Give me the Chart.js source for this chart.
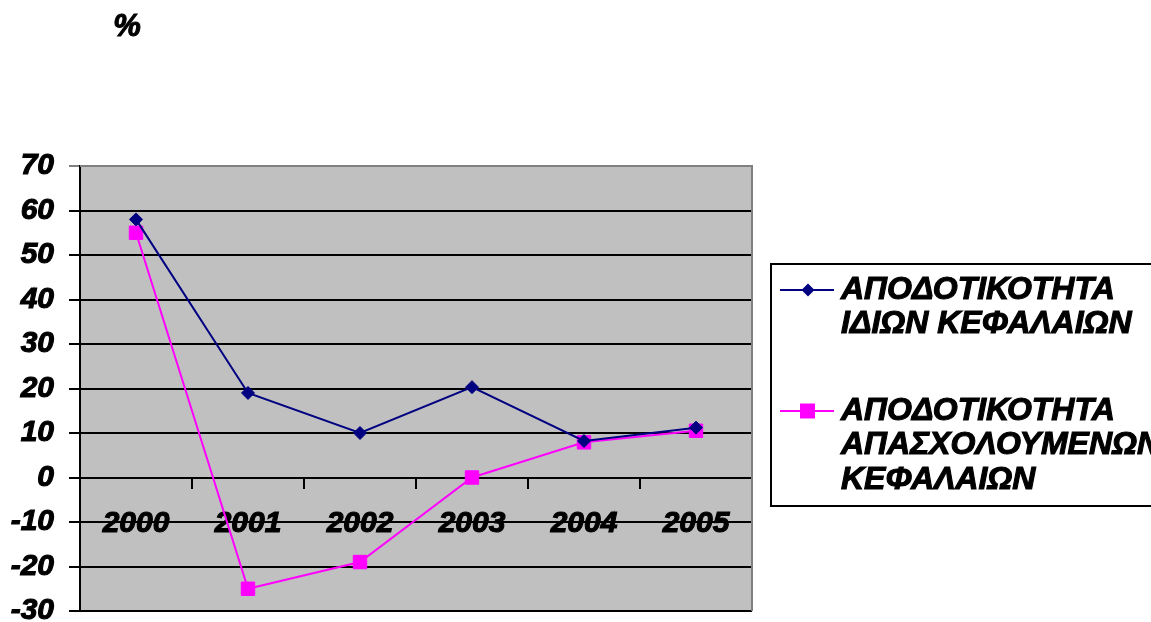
<!DOCTYPE html>
<html>
<head>
<meta charset="utf-8">
<script src="https://cdn.jsdelivr.net/npm/chart.js@4"></script>
<style>
  html, body { margin: 0; padding: 0; background: #ffffff; }
  #wrap { width: 1151px; height: 622px; position: relative; }
</style>
</head>
<body>
<div id="wrap"><canvas id="c" width="1151" height="622"></canvas></div>
<script>
// Years on the category axis
const years = ['2000', '2001', '2002', '2003', '2004', '2005'];
// Return on equity (%)
const equityReturn = [58, 19, 10, 20.3, 8.2, 11.2];
// Return on capital employed (%)
const capitalReturn = [55, -25, -19, 0, 7.9, 10.5];
// Legend names, one entry per line
const equityName = ['ΑΠΟΔΟΤΙΚΟΤΗΤΑ', 'ΙΔΙΩΝ ΚΕΦΑΛΑΙΩΝ'];
const capitalName = ['ΑΠΟΔΟΤΙΚΟΤΗΤΑ', 'ΑΠΑΣΧΟΛΟΥΜΕΝΩΝ', 'ΚΕΦΑΛΑΙΩΝ'];
// Value axis range
const yMin = -30;
const yMax = 70;
const yStep = 10;
const unitLabel = '%';

const FONT_FAMILY = "'Liberation Sans', Arial, sans-serif";
const boldItalic = (size) => ({ family: FONT_FAMILY, size: size, weight: 'bold', style: 'italic' });
const TEXT_STROKE = 1.1;

// Grey plot background plus the grey top/right frame
const plotFrame = {
  id: 'plotFrame',
  beforeDraw(chart) {
    const { ctx, chartArea: a } = chart;
    ctx.save();
    ctx.fillStyle = '#C0C0C0';
    ctx.fillRect(a.left, a.top, a.right - a.left, a.bottom - a.top);
    ctx.restore();
  },
  beforeDatasetsDraw(chart) {
    const { ctx, chartArea: a } = chart;
    ctx.save();
    ctx.strokeStyle = '#808080';
    ctx.lineWidth = 2;
    ctx.beginPath();
    ctx.moveTo(a.left, a.top);
    ctx.lineTo(a.right, a.top);
    ctx.lineTo(a.right, a.bottom);
    ctx.stroke();
    ctx.restore();
  }
};

// Heavy italic text helper (fill plus a thin outline)
function heavyText(ctx, text, x, y) {
  ctx.fillText(text, x, y);
  ctx.strokeText(text, x, y);
}

// Unit caption above the value axis
const unitCaption = {
  id: 'unitCaption',
  afterDraw(chart) {
    const ctx = chart.ctx;
    ctx.save();
    ctx.font = 'italic bold 31px ' + FONT_FAMILY;
    ctx.fillStyle = '#000';
    ctx.strokeStyle = '#000';
    ctx.lineWidth = TEXT_STROKE;
    ctx.textAlign = 'center';
    ctx.textBaseline = 'middle';
    heavyText(ctx, unitLabel, 127, 27);
    ctx.restore();
  }
};

// Boxed legend to the right of the plot, with multi-line names
const boxLegend = {
  id: 'boxLegend',
  afterDraw(chart) {
    const ctx = chart.ctx;
    const names = [equityName, capitalName];
    const itemTop = [290, 411];
    const lineGap = 34.5;
    ctx.save();
    ctx.fillStyle = '#ffffff';
    ctx.fillRect(771, 264, 400, 242);
    ctx.strokeStyle = '#000';
    ctx.lineWidth = 2;
    ctx.strokeRect(771, 264, 400, 242);
    chart.data.datasets.forEach((ds, i) => {
      const y = itemTop[i];
      ctx.strokeStyle = ds.borderColor;
      ctx.lineWidth = 2;
      ctx.beginPath();
      ctx.moveTo(780, y);
      ctx.lineTo(834, y);
      ctx.stroke();
      ctx.fillStyle = ds.pointBackgroundColor;
      ctx.beginPath();
      if (ds.pointStyle === 'rectRot') {
        const r = 6.5;
        ctx.moveTo(808 - r, y); ctx.lineTo(808, y - r);
        ctx.lineTo(808 + r, y); ctx.lineTo(808, y + r);
        ctx.closePath();
      } else {
        ctx.rect(807.5 - 7.5, y - 7.5, 15, 15);
      }
      ctx.fill();
      ctx.fillStyle = '#000';
      ctx.strokeStyle = '#000';
      ctx.lineWidth = TEXT_STROKE;
      ctx.font = 'italic bold 32px ' + FONT_FAMILY;
      ctx.textAlign = 'left';
      ctx.textBaseline = 'middle';
      names[i].forEach((line, k) => heavyText(ctx, line, 841, y + k * lineGap));
    });
    ctx.restore();
  }
};

new Chart(document.getElementById('c'), {
  type: 'line',
  data: {
    labels: years,
    datasets: [
      {
        label: equityName.join(' '),
        data: equityReturn,
        borderColor: '#000080',
        backgroundColor: '#000080',
        pointBackgroundColor: '#000080',
        pointBorderColor: '#000080',
        borderWidth: 2,
        pointStyle: 'rectRot',
        pointRadius: 6.5,
        pointBorderWidth: 1,
        tension: 0,
        fill: false
      },
      {
        label: capitalName.join(' '),
        data: capitalReturn,
        borderColor: '#FF00FF',
        backgroundColor: '#FF00FF',
        pointBackgroundColor: '#FF00FF',
        pointBorderColor: '#FF00FF',
        borderWidth: 2,
        pointStyle: 'rect',
        pointRadius: 9.5,
        pointBorderWidth: 1,
        tension: 0,
        fill: false
      }
    ]
  },
  options: {
    responsive: false,
    animation: false,
    layout: { padding: { top: 166, right: 399, bottom: 11, left: 0 } },
    plugins: {
      legend: { display: false },
      tooltip: { enabled: false },
      title: { display: false }
    },
    scales: {
      x: {
        type: 'category',
        position: { y: 0 },
        offset: true,
        afterFit(scale) {
          scale.height = 0;
          scale.paddingLeft = 0;
          scale.paddingRight = 0;
        },
        grid: {
          offset: true,
          drawOnChartArea: false,
          drawTicks: true,
          tickLength: 10,
          color: '#000',
          lineWidth: 2
        },
        border: { display: true, color: '#000', width: 2 },
        ticks: {
          color: '#000',
          font: boldItalic(30),
          textStrokeColor: '#000',
          textStrokeWidth: TEXT_STROKE,
          padding: 18,
          maxRotation: 0,
          autoSkip: false
        }
      },
      y: {
        min: yMin,
        max: yMax,
        afterFit(scale) {
          scale.width = 80;
          scale.paddingTop = 0;
          scale.paddingBottom = 0;
        },
        grid: {
          color: (c) => (c.tick && c.tick.value === yMax ? '#808080' : '#000'),
          lineWidth: 2,
          drawTicks: true,
          tickLength: 11
        },
        border: { display: true, color: '#000', width: 2 },
        ticks: {
          stepSize: yStep,
          color: '#000',
          font: boldItalic(30),
          textStrokeColor: '#000',
          textStrokeWidth: TEXT_STROKE,
          padding: 15
        }
      }
    }
  },
  plugins: [plotFrame, unitCaption, boxLegend]
});
</script>
</body>
</html>
